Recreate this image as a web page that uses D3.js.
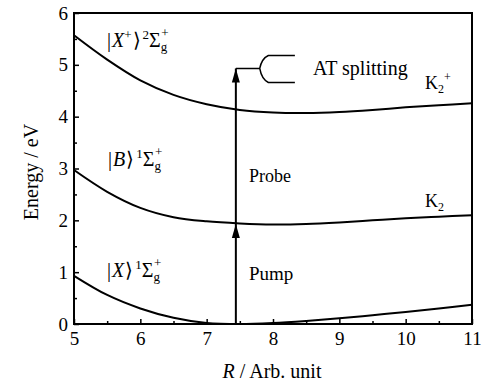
<!DOCTYPE html>
<html>
<head>
<meta charset="utf-8">
<script src="https://cdn.jsdelivr.net/npm/d3@7"></script>
</head>
<body style="margin:0;background:#fff">
<svg id="chart"></svg>
<script>
// Constants
const width = 490;
const height = 387;
const margin = { left: 74, right: 18, top: 13, bottom: 63 };
const serif = "'Liberation Serif'";

// Potential curves (R in Arb. unit, E in eV)
const rValues = [5, 5.5, 6, 6.5, 7, 7.5, 8, 8.5, 9, 9.5, 10, 10.5, 11];
const groundX = [0.93, 0.56, 0.30, 0.12, 0.02, 0.0, 0.02, 0.06, 0.11, 0.17, 0.23, 0.30, 0.37];
const excitedB = [2.97, 2.55, 2.24, 2.06, 1.98, 1.94, 1.92, 1.93, 1.96, 2.0, 2.04, 2.07, 2.1];
const ionX = [5.57, 5.10, 4.70, 4.42, 4.24, 4.13, 4.08, 4.07, 4.09, 4.13, 4.18, 4.22, 4.26];

// Pump / probe arrow and AT splitting fork
const arrowR = 7.44;
const arrowLevels = [0, 1.93, 4.93];
const forkR = [7.8, 7.93, 8.33];
const forkE = [4.93, 5.18, 4.66];

const xTicks = [5, 6, 7, 8, 9, 10, 11];
const yTicks = [0, 1, 2, 3, 4, 5, 6];

const svg = d3.select("#chart").attr("width", width).attr("height", height)
    .style("font-family", serif);

const x = d3.scaleLinear().domain([5, 11]).range([margin.left, width - margin.right]);
const y = d3.scaleLinear().domain([0, 6]).range([height - margin.bottom, margin.top]);

// curves
const line = d3.line()
    .x((d, i) => x(rValues[i]))
    .y(d => y(d))
    .curve(d3.curveCatmullRom.alpha(0.5));

[groundX, excitedB, ionX].forEach(series => {
    svg.append("path")
        .attr("d", line(series))
        .attr("fill", "none")
        .attr("stroke", "#000")
        .attr("stroke-width", 2);
});

// frame
svg.append("rect")
    .attr("x", x(5)).attr("y", y(6))
    .attr("width", x(11) - x(5)).attr("height", y(0) - y(6))
    .attr("fill", "none").attr("stroke", "#000").attr("stroke-width", 2);

// axes with inward ticks
const fmt = d3.format("d");
const xAxis = svg.append("g")
    .attr("transform", `translate(0,${y(0)})`)
    .call(d3.axisBottom(x).tickValues(xTicks).tickFormat(fmt).tickSizeInner(-5).tickSizeOuter(0).tickPadding(8));
const xMinor = svg.append("g")
    .attr("transform", `translate(0,${y(0)})`)
    .call(d3.axisBottom(x).tickValues(d3.range(5.5, 11, 1)).tickSize(-3).tickFormat(""));
const yAxis = svg.append("g")
    .attr("transform", `translate(${x(5)},0)`)
    .call(d3.axisLeft(y).tickValues(yTicks).tickFormat(fmt).tickSizeInner(-5).tickSizeOuter(0).tickPadding(10));
const yMinor = svg.append("g")
    .attr("transform", `translate(${x(5)},0)`)
    .call(d3.axisLeft(y).tickValues(d3.range(0.5, 6, 1)).tickSize(-3).tickFormat(""));

[xAxis, xMinor, yAxis, yMinor].forEach(g => {
    g.attr("font-family", null);
    g.select(".domain").remove();
    g.selectAll("line").attr("stroke", "#000").attr("stroke-width", 1.5);
    g.selectAll("text").attr("font-size", 19).attr("fill", "#000").style("font-family", serif);
});
yAxis.selectAll("text").attr("dx", 4);

function label(xp, yp, size) {
    return svg.append("text").attr("x", xp).attr("y", yp)
        .attr("font-size", size).attr("fill", "#000").style("font-family", serif);
}

// axis titles
label(272, 378, 20).attr("text-anchor", "middle")
    .html('<tspan font-style="italic">R</tspan> / Arb. unit');
svg.append("text")
    .attr("transform", "translate(38,172) rotate(-90)")
    .attr("text-anchor", "middle").attr("font-size", 20).style("font-family", serif)
    .text("Energy / eV");

// arrow
svg.append("line")
    .attr("x1", x(arrowR)).attr("x2", x(arrowR))
    .attr("y1", y(arrowLevels[0])).attr("y2", y(arrowLevels[2]))
    .attr("stroke", "#000").attr("stroke-width", 2);
arrowLevels.slice(1).forEach(e => {
    svg.append("path")
        .attr("d", `M${x(arrowR) - 4},${y(e) + 14} L${x(arrowR)},${y(e)} L${x(arrowR) + 4},${y(e) + 14} Z`)
        .attr("fill", "#000");
});

// fork for AT splitting
const fork = d3.path();
fork.moveTo(x(arrowR), y(forkE[0]));
fork.lineTo(x(forkR[0]), y(forkE[0]));
fork.moveTo(x(forkR[2]), y(forkE[1]));
fork.lineTo(x(forkR[1]), y(forkE[1]));
fork.quadraticCurveTo(x(forkR[0]) + 2, y(forkE[1]) + 3, x(forkR[0]), y(forkE[0]));
fork.quadraticCurveTo(x(forkR[0]) + 2, y(forkE[2]) - 3, x(forkR[1]), y(forkE[2]));
fork.lineTo(x(forkR[2]), y(forkE[2]));
svg.append("path").attr("d", fork.toString())
    .attr("fill", "none").attr("stroke", "#000").attr("stroke-width", 1.5);

// plain labels
label(313, 75, 20).text("AT splitting");
label(249, 182, 18).text("Probe");
label(249, 280, 19).text("Pump");

// molecule labels
label(425, 89, 18)
    .html('K<tspan font-size="12" dy="4">2</tspan><tspan font-size="12" dy="-12">+</tspan>');
label(425, 207, 18)
    .html('K<tspan font-size="12" dy="4">2</tspan>');

// state labels
function stateLabel(xp, yp, name, ionic, mult) {
    let s = '|<tspan font-style="italic" dx="1">' + name + '</tspan>';
    if (ionic) s += '<tspan font-size="13" dy="-8">+</tspan><tspan dy="8" dx="1">\u27E9</tspan>';
    else s += '<tspan dx="1">\u27E9</tspan>';
    s += '<tspan font-size="13" dy="-8" dx="2">' + mult + '</tspan>';
    s += '<tspan dy="8">\u03A3</tspan>';
    s += '<tspan font-size="13" dy="4">g</tspan>';
    s += '<tspan font-size="13" dy="-14" dx="-6">+</tspan>';
    label(xp, yp, 20).html(s);
}
stateLabel(107, 47, "X", true, 2);
stateLabel(108, 166, "B", false, 1);
stateLabel(107, 277, "X", false, 1);
</script>
</body>
</html>
